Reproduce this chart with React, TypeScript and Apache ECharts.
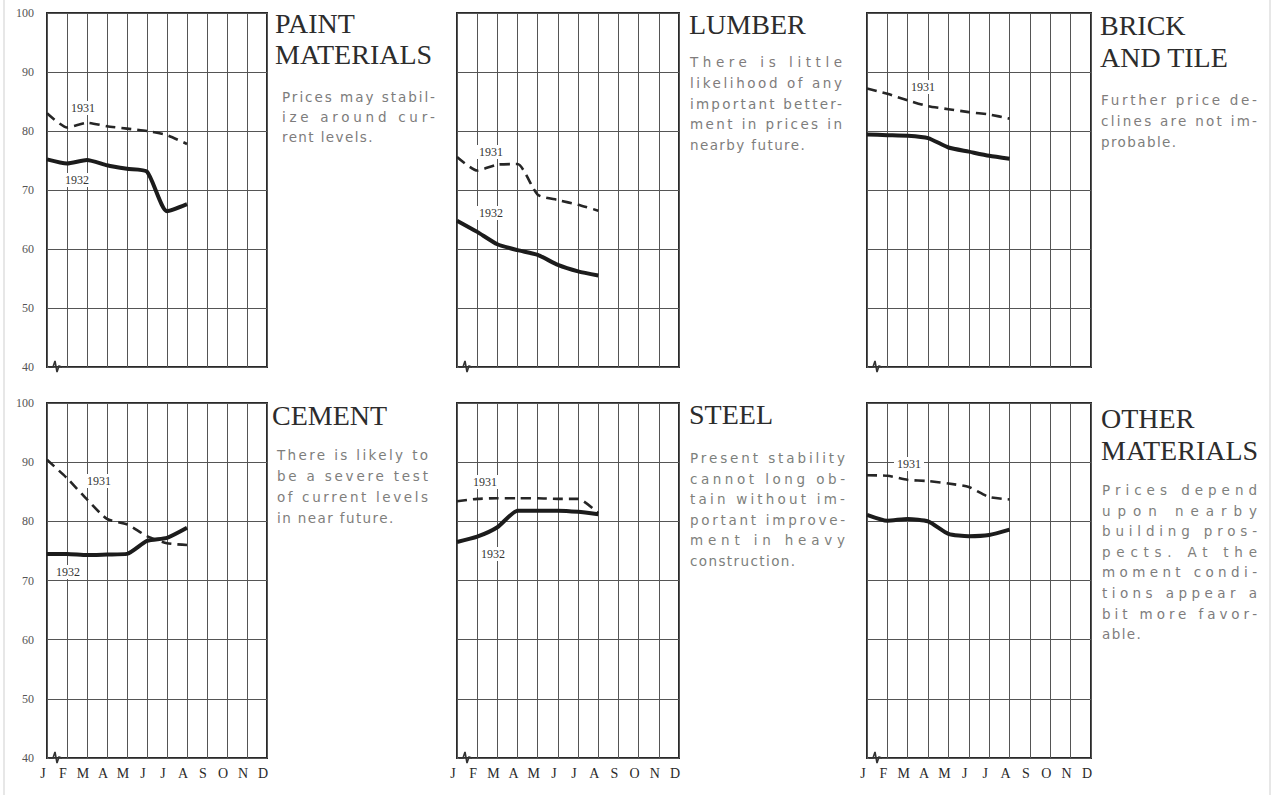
import React, { useEffect, useRef, useState } from 'react';
import * as echarts from 'echarts';

// ---------- data ----------
const months = ['J', 'F', 'M', 'A', 'M', 'J', 'J', 'A', 'S', 'O', 'N', 'D'];
const yMin = 40;
const yMax = 100;
const yStep = 10;

const paint1931 = [83, 80.6, 81.4, 80.8, 80.4, 80, 79.3, 77.8];
const paint1932 = [75.2, 74.5, 75.1, 74.2, 73.6, 73.1, 66.4, 67.6];
const lumber1931 = [75.6, 73.3, 74.3, 74.4, 69.2, 68.3, 67.5, 66.5];
const lumber1932 = [64.8, 62.9, 60.8, 59.8, 59, 57.3, 56.2, 55.5];
const brick1931 = [87.2, 86.3, 85.2, 84.2, 83.7, 83.2, 82.8, 82.1];
const brick1932 = [79.4, 79.3, 79.2, 78.8, 77.2, 76.5, 75.8, 75.3];
const cement1931 = [90.4, 87.3, 83.7, 80.4, 79.5, 77.5, 76.3, 76];
const cement1932 = [74.5, 74.5, 74.3, 74.4, 74.5, 76.7, 77.2, 78.9];
const steel1931 = [83.4, 83.8, 83.9, 83.9, 83.9, 83.8, 83.8, 81.4];
const steel1932 = [76.5, 77.4, 79, 81.8, 81.8, 81.8, 81.6, 81.2];
const other1931 = [87.8, 87.7, 87, 86.8, 86.4, 85.8, 84.1, 83.7];
const other1932 = [81.1, 80.1, 80.4, 80, 77.9, 77.5, 77.7, 78.6];

const titles = [
  ['PAINT', 'MATERIALS'],
  ['LUMBER'],
  ['BRICK', 'AND TILE'],
  ['CEMENT'],
  ['STEEL'],
  ['OTHER', 'MATERIALS'],
];

const notes = [
  ['Prices may stabil-', 'ize around cur-', 'rent levels.'],
  ['There is little', 'likelihood of any', 'important better-', 'ment in prices in', 'nearby future.'],
  ['Further price de-', 'clines are not im-', 'probable.'],
  ['There is likely to', 'be a severe test', 'of current levels', 'in near future.'],
  ['Present stability', 'cannot long ob-', 'tain without im-', 'portant improve-', 'ment in heavy', 'construction.'],
  ['Prices depend', 'upon nearby', 'building pros-', 'pects. At the', 'moment condi-', 'tions appear a', 'bit more favor-', 'able.'],
];

const series1931 = [paint1931, lumber1931, brick1931, cement1931, steel1931, other1931];
const series1932 = [paint1932, lumber1932, brick1932, cement1932, steel1932, other1932];

// ---------- layout ----------
const GRIDS = [
  { left: 47, top: 13, width: 220, height: 354 },
  { left: 457, top: 13, width: 222, height: 354 },
  { left: 867, top: 13, width: 224, height: 354 },
  { left: 47, top: 403, width: 220, height: 355 },
  { left: 457, top: 403, width: 222, height: 355 },
  { left: 867, top: 403, width: 224, height: 355 },
];

const TITLE_POS = [
  { x: 275, y: 23, lh: 31 },
  { x: 689, y: 24, lh: 31 },
  { x: 1100, y: 25, lh: 32 },
  { x: 272, y: 415, lh: 31 },
  { x: 689, y: 414, lh: 31 },
  { x: 1101, y: 418, lh: 32 },
];

const NOTE_POS = [
  { x: 282, y: 97, w: 153, lh: 20 },
  { x: 690, y: 62, w: 152, lh: 20.8 },
  { x: 1101, y: 100, w: 156, lh: 21 },
  { x: 277, y: 455, w: 151, lh: 21 },
  { x: 690, y: 458, w: 155, lh: 20.6 },
  { x: 1102, y: 490, w: 155, lh: 20.6 },
];

const YEAR_LABELS = [
  { t: '1931', x: 83, y: 108 },
  { t: '1932', x: 77, y: 180 },
  { t: '1931', x: 491, y: 152 },
  { t: '1932', x: 491, y: 213 },
  { t: '1931', x: 923, y: 87 },
  { t: '1931', x: 99, y: 481 },
  { t: '1932', x: 68, y: 572 },
  { t: '1931', x: 485, y: 482 },
  { t: '1932', x: 493, y: 554 },
  { t: '1931', x: 909, y: 464 },
];

const BODY_FONT = 'DejaVu Sans';
const BODY_SIZE = 13.5;
const BASE_LS = 1.4;
const BASE_GREY = 0x7e;

const hex2 = (n: number) => n.toString(16).padStart(2, '0');

// one text per line; each line gets its own letter-spacing (justified),
// keyed by an imperceptibly different grey fill
function buildNotes(): { els: any[]; css: string } {
  const canvas = document.createElement('canvas');
  const ctx = canvas.getContext('2d')!;
  ctx.font = `${BODY_SIZE}px "${BODY_FONT}"`;
  const els: any[] = [];
  let css = '';
  let k = 0;
  notes.forEach((lines, pi) => {
    const p = NOTE_POS[pi];
    lines.forEach((line, li) => {
      const last = li === lines.length - 1;
      const nat = ctx.measureText(line).width;
      let ls = BASE_LS;
      if (!last && line.length > 1) {
        ls = Math.max(0.3, (p.w - nat) / (line.length - 1));
      }
      const r = BASE_GREY + ((k % 5) - 2);
      const g = BASE_GREY + ((Math.floor(k / 5) % 5) - 2);
      const b = BASE_GREY + ((Math.floor(k / 25) % 5) - 2);
      const fill = '#' + hex2(r) + hex2(g) + hex2(b);
      css += `#chartbox text[fill="${fill}"]{letter-spacing:${ls.toFixed(2)}px}`;
      els.push({
        type: 'text',
        x: p.x,
        y: p.y + li * p.lh,
        z: 10,
        style: {
          text: line,
          fill,
          fontFamily: BODY_FONT,
          fontSize: BODY_SIZE,
          textAlign: 'left',
          textVerticalAlign: 'middle',
        },
      });
      k++;
    });
  });
  return { els, css };
}

export default function App() {
  const ref = useRef<HTMLDivElement>(null);
  const [css, setCss] = useState('');
  useEffect(() => {
    if (!ref.current) return;
    const chart = echarts.init(ref.current, null, { renderer: 'svg' });

    const grid = GRIDS.map((g) => ({
      ...g,
      show: true,
      borderColor: '#2a2a2a',
      borderWidth: 2,
      backgroundColor: 'transparent',
    }));

    const xAxis = GRIDS.map((_, i) => ({
      type: 'category',
      gridIndex: i,
      data: months,
      boundaryGap: false,
      axisLine: { show: false },
      axisTick: { show: false },
      axisLabel: {
        show: i >= 3,
        interval: 0,
        margin: 8,
        fontFamily: 'Liberation Serif',
        fontSize: 14,
        color: '#2a2a2a',
        padding: [0, 8, 0, 0],
      },
      splitLine: { show: true, lineStyle: { color: '#555', width: 1 } },
    }));

    const yAxis = GRIDS.map((_, i) => ({
      type: 'value',
      gridIndex: i,
      min: yMin,
      max: yMax,
      interval: yStep,
      axisLine: { show: false },
      axisTick: { show: false },
      axisLabel: {
        show: i % 3 === 0,
        margin: 13,
        fontFamily: 'Liberation Serif',
        fontSize: 12,
        color: '#555',
      },
      splitLine: { show: true, lineStyle: { color: '#555', width: 1 } },
    }));

    const series: any[] = [];
    GRIDS.forEach((_, i) => {
      series.push({
        type: 'line',
        xAxisIndex: i,
        yAxisIndex: i,
        data: series1931[i],
        symbol: 'none',
        smooth: 0.2,
        silent: true,
        z: 3,
        lineStyle: { color: '#262626', width: 2.6, type: [10, 6], cap: 'butt' },
      });
      series.push({
        type: 'line',
        xAxisIndex: i,
        yAxisIndex: i,
        data: series1932[i],
        symbol: 'none',
        smooth: 0.2,
        silent: true,
        z: 4,
        lineStyle: { color: '#1c1c1c', width: 4 },
      });
    });

    const graphics: any[] = [];
    graphics.push({ type: 'line', shape: { x1: 4, y1: 0, x2: 4, y2: 795 }, style: { stroke: '#cfcfcf', lineWidth: 1 } });
    graphics.push({ type: 'line', shape: { x1: 1270, y1: 0, x2: 1270, y2: 795 }, style: { stroke: '#cfcfcf', lineWidth: 1 } });

    titles.forEach((lines, i) => {
      const p = TITLE_POS[i];
      lines.forEach((t, li) => {
        graphics.push({
          type: 'text',
          x: p.x,
          y: p.y + li * p.lh,
          z: 10,
          style: {
            text: t,
            fill: '#2c2c2c',
            fontFamily: 'Liberation Serif',
            fontSize: 28,
            textAlign: 'left',
            textVerticalAlign: 'middle',
          },
        });
      });
    });

    YEAR_LABELS.forEach((l) => {
      graphics.push({
        type: 'text',
        x: l.x,
        y: l.y,
        z: 20,
        style: {
          text: l.t,
          fill: '#333',
          fontFamily: 'Liberation Serif',
          fontSize: 12,
          textAlign: 'center',
          textVerticalAlign: 'middle',
          backgroundColor: '#fff',
          padding: [1, 3],
        },
      });
    });

    GRIDS.forEach((g) => {
      const x0 = g.left;
      const y0 = g.top + g.height;
      graphics.push({
        type: 'polyline',
        z: 20,
        shape: {
          points: [
            [x0 + 2, y0],
            [x0 + 6, y0],
            [x0 + 8, y0 - 6],
            [x0 + 10, y0 + 5],
            [x0 + 12, y0 - 1],
            [x0 + 15, y0],
          ],
        },
        style: { stroke: '#333', lineWidth: 1.6, fill: 'none' },
      });
    });

    const built = buildNotes();
    graphics.push(...built.els);
    setCss(built.css);

    chart.setOption({
      animation: false,
      backgroundColor: '#fff',
      grid,
      xAxis,
      yAxis,
      series,
      graphic: graphics,
    });

    return () => chart.dispose();
  }, []);

  return (
    <>
      <style>{css}</style>
      <div
        id="chartbox"
        ref={ref}
        style={{ position: 'absolute', left: 0, top: 0, width: 1274, height: 795 }}
      />
    </>
  );
}
